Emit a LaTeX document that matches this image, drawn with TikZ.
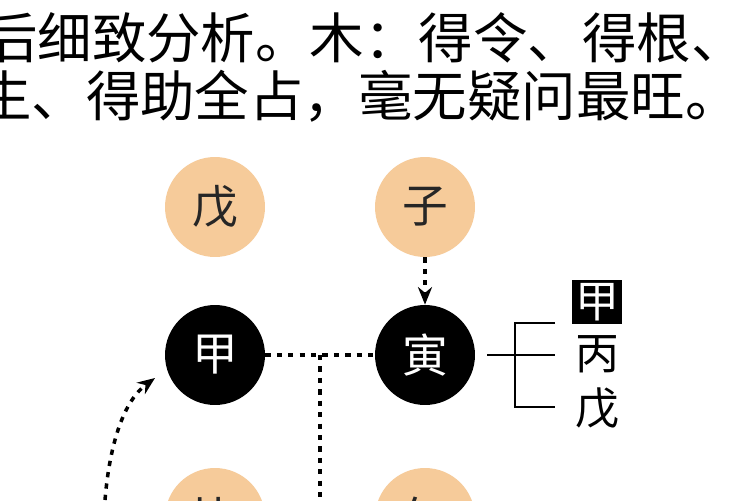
\documentclass[tikz,border=0pt]{standalone}
\usepackage{fontspec}
\newfontfamily\cjk{Noto Sans CJK SC}
\usetikzlibrary{arrows.meta}
\begin{document}
\begin{tikzpicture}[x=0.02cm,y=-0.02cm,
  orange/.style={circle,fill=peach,minimum size=2cm,inner sep=0pt,font=\cjk\fontsize{26}{26}\selectfont,text=black!85},
  dark/.style={circle,fill=black,minimum size=2cm,inner sep=0pt,font=\cjk\fontsize{26}{26}\selectfont,text=white},
  dotline/.style={line width=2pt,dash pattern=on 3pt off 3.5pt},
  lab/.style={font=\cjk\fontsize{25}{25}\selectfont,inner sep=2pt}]
\definecolor{peach}{HTML}{F6CB9A}
\clip (0,0) rectangle (750,500);
\fill[white] (0,0) rectangle (750,500);
\node[font=\cjk\fontsize{31}{31}\selectfont,anchor=east,inner sep=0pt] (l1) at (746,38) {后细致分析。木：得令、得根、};
\node[font=\cjk\fontsize{31}{31}\selectfont,anchor=east,inner sep=0pt] (l2) at (740,96) {生、得助全占，毫无疑问最旺。};
\node[orange] (wu) at (215,207) {戊};
\node[orange] (zi) at (425,207) {子};
\node[dark] (jia) at (215,355) {甲};
\node[dark] (yin) at (425,355) {寅};
\node[orange] (b1) at (215,518) {比};
\node[orange] (b2) at (425,518) {午};
\draw[dotline] (jia.east) -- (yin.west);
\coordinate (midb) at (320,500);
\draw[dotline] (320,355) -- (midb);
\draw[dotline,-{Stealth[length=10pt,width=8pt]}] (zi.south) -- (yin.north);
\coordinate (cs) at (105,500);
\draw[dotline,-{Stealth[length=10pt,width=8pt]}] (cs) .. controls (110,440) and (125,400) .. (155,378);
\draw[line width=1.5pt] (yin.east) ++(12,0) -- (555,355);
\draw[line width=1.5pt] (555,323) -- (515,323) -- (515,407) -- (555,407);
\node[lab,fill=black,text=white] (h1) at (597,302) {甲};
\node[lab] (h2) at (597,354) {丙};
\node[lab] (h3) at (597,408) {戊};
\end{tikzpicture}
\end{document}
